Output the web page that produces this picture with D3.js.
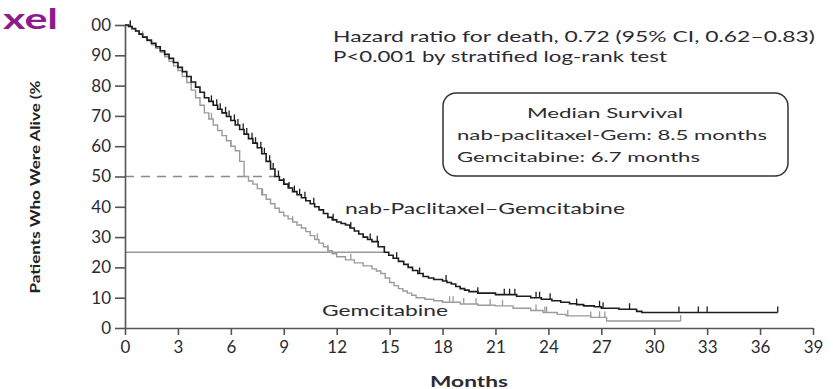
<!DOCTYPE html>
<html>
<head>
<meta charset="utf-8">
<script src="https://cdn.jsdelivr.net/npm/d3@7"></script>
<style>
  body { margin: 0; background: #fff; }
  svg { display: block; }
  text { font-family: Lato, "Open Sans", sans-serif; }
</style>
</head>
<body>
<svg id="chart" width="833" height="389"></svg>
<script>
// Axis ticks
const xTicks = [0, 3, 6, 9, 12, 15, 18, 21, 24, 27, 30, 33, 36, 39];
const yTicks = [0, 10, 20, 30, 40, 50, 60, 70, 80, 90, 100];
const yTickLabels = ["0", "10", "20", "30", "40", "50", "60", "70", "80", "90", "00"];

// Kaplan–Meier steps: [month, percent alive after the step]
const nabSteps = [
  [0, 100], [0.2, 99.5], [0.4, 98.8], [0.6, 98], [0.8, 97], [1.0, 96],
  [1.25, 95], [1.5, 94], [1.75, 92.8], [2.0, 91.5], [2.25, 90.3], [2.5, 89],
  [2.75, 87.6], [3.0, 86], [3.25, 84.6], [3.5, 83], [3.75, 81.2], [4.0, 79.5],
  [4.25, 77.8], [4.5, 76], [4.75, 74.8], [5.0, 73.5], [5.25, 72.2], [5.5, 71],
  [5.75, 69.8], [6.0, 68.5], [6.25, 67], [6.5, 65.5], [6.75, 64], [7.0, 62.5],
  [7.25, 61], [7.5, 59.5], [7.75, 57.5], [8.0, 55], [8.25, 52.5], [8.5, 50],
  [8.75, 48.8], [9.0, 47.5], [9.25, 46.2], [9.5, 45], [9.75, 44], [10.0, 43],
  [10.25, 42], [10.5, 41], [10.75, 40], [11.0, 39], [11.25, 37.8], [11.5, 36.5],
  [11.75, 35.7], [12.0, 35], [12.25, 34.5], [12.5, 34], [12.75, 33], [13.0, 32],
  [13.25, 31], [13.5, 30], [13.75, 29.2], [14.0, 28.5], [14.35, 26.8],
  [14.7, 25], [14.95, 24], [15.2, 23], [15.5, 22], [15.8, 21], [16.05, 20],
  [16.3, 19], [16.6, 18], [16.9, 17], [17.2, 16.5], [17.5, 16], [18.0, 15.5],
  [18.25, 15], [18.5, 14.5], [18.75, 13.7], [19.0, 13], [19.25, 12.5],
  [19.5, 12], [20.0, 11.5], [21.0, 11], [22.2, 10.5], [23.0, 10], [23.6, 9.5],
  [24.2, 9], [24.7, 8.5], [25.2, 8], [25.6, 7.7], [26.0, 7.3], [26.6, 7],
  [27.0, 6.5], [28.0, 6.2], [29.0, 5.5], [29.3, 5.1]
];
const nabEnd = 37.0;
const nabCensored = [
  0.3, 4.9, 5.2, 5.4, 5.7, 5.9, 6.2, 6.4, 6.7, 6.9, 7.2, 7.4, 7.7, 7.9, 8.2,
  8.4, 8.7, 9.0, 9.3, 9.6, 9.9, 10.2, 10.7, 11.8, 12.8, 13.9, 14.3, 15.4,
  16.7, 18.2, 20.0, 21.5, 21.8, 22.1, 23.3, 23.5, 24.1, 25.6, 26.9, 27.1,
  28.6, 31.4, 32.5, 33.0, 37.0
];

const gemSteps = [
  [0, 100], [0.2, 99.5], [0.4, 98.8], [0.6, 98], [0.8, 97], [1.0, 96],
  [1.25, 94.8], [1.5, 93.5], [1.75, 92.3], [2.0, 91], [2.25, 89.5], [2.5, 88],
  [2.75, 86.5], [3.0, 85], [3.25, 83], [3.5, 81], [3.75, 78.5], [4.0, 76],
  [4.25, 73.5], [4.5, 71], [4.75, 69], [5.0, 67], [5.25, 65.2], [5.5, 63.5],
  [5.75, 61.8], [6.0, 60], [6.25, 58.5], [6.5, 55], [6.75, 50], [7.0, 48.5],
  [7.25, 47.5], [7.5, 46], [7.75, 44], [8.0, 42.5], [8.25, 41], [8.5, 39.5],
  [8.75, 38.2], [9.0, 37], [9.25, 36], [9.5, 35], [9.75, 34], [10.0, 33],
  [10.25, 31.8], [10.5, 30.5], [10.75, 29.2], [11.0, 28], [11.25, 26.8],
  [11.5, 25.5], [11.75, 24.5], [12.0, 23.5], [12.5, 22.5], [13.0, 21.5],
  [13.5, 20.5], [14.0, 19.5], [14.25, 18.8], [14.5, 18], [14.75, 16.5],
  [15.0, 15], [15.25, 14], [15.5, 13], [15.75, 12.2], [16.0, 11.5],
  [16.25, 10.8], [16.5, 10], [17.0, 9.5], [17.5, 9], [18.0, 8.5], [19.0, 7.9],
  [20.0, 7.5], [21.0, 7.3], [22.0, 6.5], [23.0, 5.8], [23.7, 5.1], [24.5, 4.5],
  [25.0, 4], [26.4, 3.5], [27.3, 2.3]
];
const gemEnd = 31.5;
const gemCensored = [
  0.3, 1.0, 4.9, 6.0, 7.8, 9.5, 10.9, 11.5, 12.8, 18.4, 18.6, 19.2, 19.9,
  20.7, 21.4, 23.3, 23.8, 23.9, 25.1, 26.4, 26.9, 27.2, 31.5
];

// Reference lines: median (50%) and lower quartile (25%) of the nab arm
const medianNab = 8.5;
const quartileNab = 14.7;

const svg = d3.select("#chart");
const x = d3.scaleLinear().domain([0, 39]).range([125, 813]);
const y = d3.scaleLinear().domain([0, 100]).range([328, 25]);

const axisColor = "#555";
const textColor = "#2b2b33";

// Title fragment
svg.append("text")
  .attr("x", 3).attr("y", 29)
  .attr("font-size", 28).attr("font-weight", 700)
  .attr("fill", "#8d1b8e")
  .attr("textLength", 55).attr("lengthAdjust", "spacingAndGlyphs")
  .text("xel");

// Median and quartile guides
svg.append("line")
  .attr("x1", x(0)).attr("x2", x(medianNab))
  .attr("y1", y(50)).attr("y2", y(50))
  .attr("stroke", "#8a8a8a").attr("stroke-width", 1.3)
  .attr("stroke-dasharray", "9,7");
svg.append("line")
  .attr("x1", x(0)).attr("x2", x(quartileNab))
  .attr("y1", y(25)).attr("y2", y(25))
  .attr("stroke", "#9a9a9a").attr("stroke-width", 1.5);

// Axes
const xAxis = svg.append("g")
  .attr("transform", `translate(0,${y(0)})`)
  .call(d3.axisBottom(x).tickValues(xTicks).tickSize(7).tickSizeOuter(0).tickPadding(6));
const yAxis = svg.append("g")
  .attr("transform", `translate(${x(0)},0)`)
  .call(d3.axisLeft(y).tickValues(yTicks).tickSize(10).tickSizeOuter(0).tickPadding(4)
    .tickFormat((d, i) => yTickLabels[i]));
[xAxis, yAxis].forEach(g => {
  g.select(".domain").attr("stroke", axisColor).attr("stroke-width", 1.6);
  g.selectAll(".tick line").attr("stroke", axisColor).attr("stroke-width", 1.6);
  g.selectAll(".tick text")
    .attr("fill", textColor)
    .attr("font-size", 17)
    .attr("font-family", "Lato, 'Open Sans', sans-serif");
});

svg.append("text")
  .attr("x", x(19.5)).attr("y", 387)
  .attr("text-anchor", "middle")
  .attr("font-size", 16).attr("font-weight", 700)
  .attr("fill", textColor)
  .attr("textLength", 78).attr("lengthAdjust", "spacingAndGlyphs")
  .text("Months");

svg.append("text")
  .attr("transform", "translate(40,187) rotate(-90)")
  .attr("text-anchor", "middle")
  .attr("font-size", 14).attr("font-weight", 700)
  .attr("fill", "#222")
  .attr("textLength", 213).attr("lengthAdjust", "spacingAndGlyphs")
  .text("Patients Who Were Alive (%");

// Survival curves
function stepPoints(steps, end) {
  return steps.concat([[end, steps[steps.length - 1][1]]]);
}
function survivalAt(steps, t) {
  let s = steps[0][1];
  for (const [tt, v] of steps) { if (tt <= t) s = v; else break; }
  return s;
}
const line = d3.line()
  .x(d => x(d[0])).y(d => y(d[1]))
  .curve(d3.curveStepAfter);

const arms = [
  { steps: gemSteps, end: gemEnd, censored: gemCensored, color: "#9b9b9b", width: 1.4 },
  { steps: nabSteps, end: nabEnd, censored: nabCensored, color: "#1c1c1c", width: 1.6 }
];
arms.forEach(a => {
  svg.append("path")
    .datum(stepPoints(a.steps, a.end))
    .attr("d", line)
    .attr("fill", "none")
    .attr("stroke", a.color)
    .attr("stroke-width", a.width);
  svg.append("g").selectAll("line")
    .data(a.censored)
    .join("line")
    .attr("x1", d => x(d)).attr("x2", d => x(d))
    .attr("y1", d => y(survivalAt(a.steps, d)))
    .attr("y2", d => y(survivalAt(a.steps, d)) - 6)
    .attr("stroke", a.color)
    .attr("stroke-width", 1.3);
});

// Curve labels
svg.append("text")
  .attr("x", 345).attr("y", 214)
  .attr("font-size", 15).attr("fill", textColor)
  .attr("textLength", 280).attr("lengthAdjust", "spacingAndGlyphs")
  .text("nab-Paclitaxel–Gemcitabine");
svg.append("text")
  .attr("x", 322).attr("y", 316)
  .attr("font-size", 15).attr("fill", textColor)
  .attr("textLength", 126).attr("lengthAdjust", "spacingAndGlyphs")
  .text("Gemcitabine");

// Statistics
svg.append("text")
  .attr("x", 333).attr("y", 42)
  .attr("font-size", 15).attr("fill", textColor)
  .attr("textLength", 482).attr("lengthAdjust", "spacingAndGlyphs")
  .text("Hazard ratio for death, 0.72 (95% CI, 0.62–0.83)");
svg.append("text")
  .attr("x", 333).attr("y", 62)
  .attr("font-size", 15).attr("fill", textColor)
  .attr("textLength", 334).attr("lengthAdjust", "spacingAndGlyphs")
  .text("P<0.001 by stratified log-rank test");

// Median survival box
svg.append("rect")
  .attr("x", 443).attr("y", 93)
  .attr("width", 345).attr("height", 83)
  .attr("rx", 13).attr("ry", 13)
  .attr("fill", "none").attr("stroke", "#333").attr("stroke-width", 1.5);
svg.append("text")
  .attr("x", 605).attr("y", 118)
  .attr("text-anchor", "middle")
  .attr("font-size", 14).attr("fill", textColor)
  .attr("textLength", 156).attr("lengthAdjust", "spacingAndGlyphs")
  .text("Median Survival");
svg.append("text")
  .attr("x", 457).attr("y", 140)
  .attr("font-size", 14).attr("fill", textColor)
  .attr("textLength", 310).attr("lengthAdjust", "spacingAndGlyphs")
  .text("nab-paclitaxel-Gem: 8.5 months");
svg.append("text")
  .attr("x", 457).attr("y", 162)
  .attr("font-size", 14).attr("fill", textColor)
  .attr("textLength", 243).attr("lengthAdjust", "spacingAndGlyphs")
  .text("Gemcitabine: 6.7 months");
</script>
</body>
</html>
